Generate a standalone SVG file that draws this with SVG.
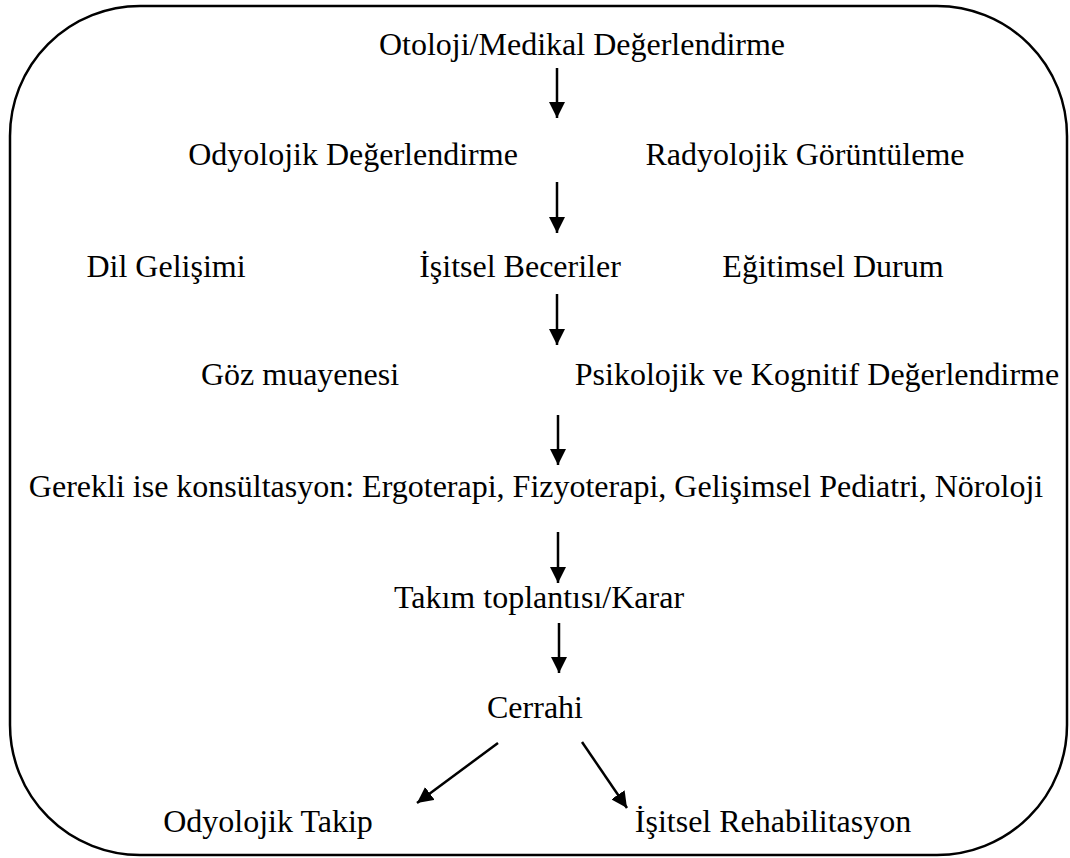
<svg xmlns="http://www.w3.org/2000/svg" width="1070" height="858" viewBox="0 0 1070 858">
<defs>
<style>
.t{font-family:"Liberation Serif","Times New Roman",serif;font-size:32px;fill:#000;text-anchor:middle}
.c{stroke:#000;stroke-width:2.5;fill:none}
</style>
<marker id="ah" viewBox="0 0 16 16" refX="16" refY="8" markerWidth="16" markerHeight="16" markerUnits="userSpaceOnUse" orient="auto">
<path d="M0,0 L16,8 L0,16 Z" fill="#000"/>
</marker>
</defs>
<rect x="10" y="6" width="1057" height="849" rx="130" ry="130" fill="#fff" stroke="#000" stroke-width="2.5"/>
<g id="n1"><text class="t" x="582" y="55">Otoloji/Medikal Değerlendirme</text></g>
<g id="n2"><text class="t" x="353" y="165">Odyolojik Değerlendirme</text></g>
<g id="n3"><text class="t" x="805" y="165">Radyolojik Görüntüleme</text></g>
<g id="n4"><text class="t" x="166" y="277">Dil Gelişimi</text></g>
<g id="n5"><text class="t" x="520" y="277">İşitsel Beceriler</text></g>
<g id="n6"><text class="t" x="833" y="277">Eğitimsel Durum</text></g>
<g id="n7"><text class="t" x="300" y="385">Göz muayenesi</text></g>
<g id="n8"><text class="t" x="817" y="385">Psikolojik ve Kognitif Değerlendirme</text></g>
<g id="n9"><text class="t" x="536" y="497">Gerekli ise konsültasyon: Ergoterapi, Fizyoterapi, Gelişimsel Pediatri, Nöroloji</text></g>
<g id="n10"><text class="t" x="539" y="608">Takım toplantısı/Karar</text></g>
<g id="n11"><text class="t" x="535" y="718">Cerrahi</text></g>
<g id="n12"><text class="t" x="268" y="832">Odyolojik Takip</text></g>
<g id="n13"><text class="t" x="773" y="832">İşitsel Rehabilitasyon</text></g>
<g id="connectors">
<line class="c" x1="557" y1="68" x2="557" y2="118" marker-end="url(#ah)"/>
<line class="c" x1="557" y1="182" x2="557" y2="233" marker-end="url(#ah)"/>
<line class="c" x1="557" y1="294" x2="557" y2="345" marker-end="url(#ah)"/>
<line class="c" x1="558" y1="415" x2="558" y2="465" marker-end="url(#ah)"/>
<line class="c" x1="558" y1="532" x2="558" y2="583" marker-end="url(#ah)"/>
<line class="c" x1="559" y1="623" x2="559" y2="673" marker-end="url(#ah)"/>
<line class="c" x1="498" y1="743" x2="417" y2="803" marker-end="url(#ah)"/>
<line class="c" x1="582" y1="742" x2="627" y2="808" marker-end="url(#ah)"/>
</g>
</svg>
